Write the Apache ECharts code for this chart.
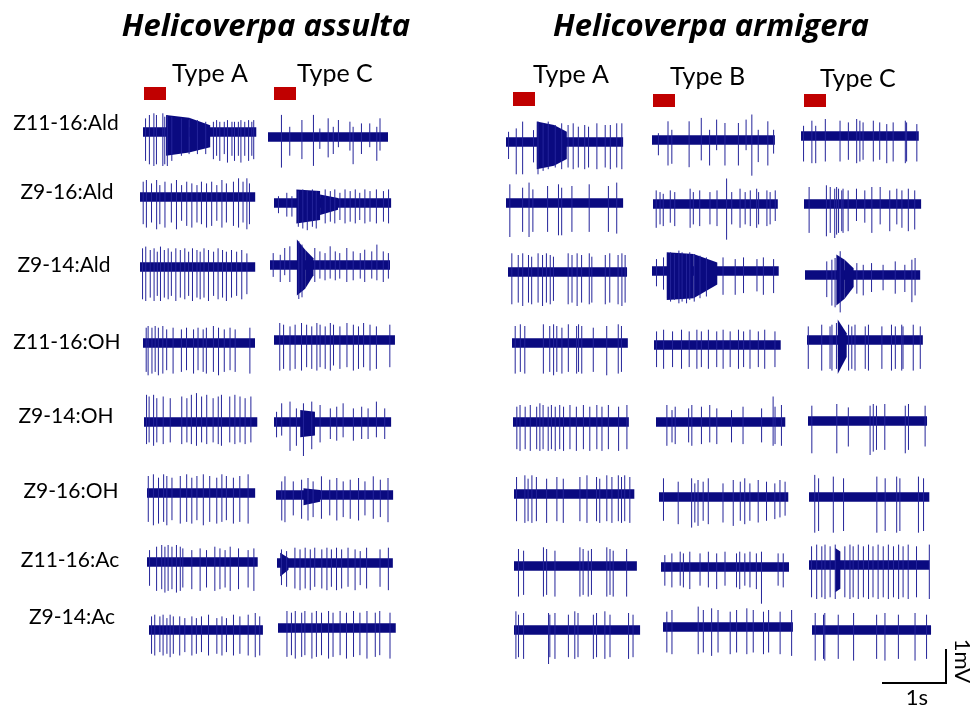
<!DOCTYPE html>
<html>
<head>
<meta charset="utf-8">
<script src="https://cdn.jsdelivr.net/npm/echarts@6/dist/echarts.min.js"></script>
<style>
  html, body { margin: 0; padding: 0; background: #fff; }
  #chart { width: 976px; height: 708px; }
</style>
</head>
<body>
<div id="chart"></div>
<script>
// ---- labels ----
const species = ["Helicoverpa assulta", "Helicoverpa armigera"];
const sensillumTypes = ["Type A", "Type C", "Type A", "Type B", "Type C"];
const compounds = ["Z11-16:Ald", "Z9-16:Ald", "Z9-14:Ald", "Z11-16:OH", "Z9-14:OH", "Z9-16:OH", "Z11-16:Ac", "Z9-14:Ac"];

// ---- recording length of each trace (s), one per compound ----
const assultaA_dur = [1.77, 1.8, 1.8, 1.75, 1.77, 1.69, 1.73, 1.78];
const assultaC_dur = [1.875, 1.83, 1.875, 1.89, 1.83, 1.83, 1.81, 1.84];
const armigeraA_dur = [1.83, 1.83, 1.86, 1.81, 1.81, 1.88, 1.92, 1.97];
const armigeraB_dur = [1.92, 1.95, 1.98, 1.98, 2.02, 2.02, 2.0, 2.03];
const armigeraC_dur = [1.84, 1.83, 1.80, 1.81, 1.86, 1.88, 1.88, 1.86];

// ---- spikes: [time s, up mV, down mV] ----
const assultaA_spikes = [
  [[0.04,0.4,0.85],[0.10,0.5,0.95],[0.17,0.55,1.0],[0.21,0.5,0.95],[0.31,0.55,1.0],[0.34,0.45,0.95],[0.38,0.5,1.0],[0.45,0.45,0.85],[0.6,0.4,0.7],[0.72,0.35,0.65],[0.85,0.35,0.65],[0.98,0.3,0.65],[1.10,0.3,0.8],[1.15,0.35,0.7],[1.20,0.3,0.85],[1.27,0.3,0.65],[1.32,0.35,0.9],[1.39,0.3,0.7],[1.43,0.3,0.85],[1.49,0.3,0.7],[1.53,0.35,0.9],[1.59,0.3,0.7],[1.65,0.35,0.85],[1.70,0.3,0.7],[1.73,0.35,0.8]],
  [[0.05,0.45,0.8],[0.10,0.5,0.9],[0.18,0.4,0.75],[0.26,0.5,0.95],[0.31,0.35,0.8],[0.39,0.45,0.9],[0.49,0.4,0.75],[0.57,0.5,0.95],[0.65,0.35,0.7],[0.73,0.45,0.85],[0.81,0.4,0.9],[0.89,0.35,0.75],[0.96,0.45,0.8],[1.04,0.4,0.9],[1.12,0.45,0.85],[1.20,0.35,0.7],[1.28,0.5,0.9],[1.35,0.4,0.75],[1.46,0.45,0.85],[1.54,0.55,0.9],[1.61,0.45,0.75],[1.67,0.55,0.95],[1.71,0.4,0.8]],
  [[0.04,0.55,0.95],[0.09,0.6,1.0],[0.16,0.5,0.9],[0.22,0.55,1.0],[0.27,0.45,0.85],[0.32,0.6,1.0],[0.38,0.5,0.9],[0.44,0.55,0.95],[0.49,0.45,0.85],[0.56,0.55,1.0],[0.63,0.5,0.9],[0.70,0.55,0.95],[0.76,0.45,0.85],[0.82,0.55,1.0],[0.89,0.5,0.9],[0.94,0.45,0.95],[1.00,0.55,0.9],[1.07,0.5,1.0],[1.15,0.45,0.85],[1.22,0.55,0.95],[1.29,0.5,0.9],[1.35,0.45,1.0],[1.43,0.5,0.9],[1.51,0.45,0.85],[1.59,0.5,0.95],[1.67,0.4,0.8]],
  [[0.05,0.45,0.85],[0.08,0.5,0.95],[0.14,0.45,0.9],[0.19,0.5,0.85],[0.24,0.45,0.95],[0.31,0.5,0.9],[0.37,0.4,0.8],[0.47,0.45,0.9],[0.60,0.4,0.85],[0.68,0.45,0.8],[0.79,0.4,0.9],[0.86,0.45,0.8],[0.94,0.4,0.85],[0.99,0.45,0.9],[1.10,0.5,0.85],[1.18,0.45,0.95],[1.27,0.4,0.85],[1.36,0.45,0.8],[1.44,0.4,0.85],[1.67,0.45,0.9]],
  [[0.04,0.8,0.65],[0.08,0.75,0.6],[0.15,0.8,0.7],[0.20,0.7,0.6],[0.30,0.75,0.65],[0.41,0.7,0.6],[0.59,0.75,0.65],[0.67,0.7,0.6],[0.74,0.8,0.65],[0.82,0.85,0.7],[0.90,0.75,0.6],[0.98,0.8,0.65],[1.08,0.7,0.6],[1.16,0.75,0.65],[1.21,0.8,0.7],[1.34,0.75,0.6],[1.42,0.8,0.65],[1.50,0.75,0.6],[1.58,0.7,0.65],[1.67,0.75,0.6]],
  [[0.02,0.5,0.85],[0.10,0.55,0.95],[0.18,0.45,0.9],[0.26,0.55,0.85],[0.31,0.5,0.95],[0.39,0.45,0.8],[0.52,0.5,0.9],[0.62,0.55,0.85],[0.70,0.45,0.9],[0.78,0.5,0.8],[0.88,0.55,0.95],[0.98,0.5,0.85],[1.09,0.45,0.9],[1.17,0.55,0.85],[1.24,0.5,0.8],[1.35,0.45,0.9],[1.45,0.5,0.85],[1.58,0.55,0.9]],
  [[0.04,0.35,0.7],[0.15,0.45,0.85],[0.23,0.5,0.8],[0.28,0.45,0.9],[0.33,0.5,0.85],[0.39,0.45,0.8],[0.46,0.5,0.9],[0.52,0.45,0.85],[0.56,0.4,0.75],[0.70,0.35,0.8],[0.83,0.4,0.85],[0.93,0.35,0.75],[1.06,0.45,0.85],[1.14,0.4,0.8],[1.22,0.35,0.75],[1.30,0.45,0.85],[1.43,0.4,0.8],[1.58,0.35,0.75],[1.67,0.4,0.85]],
  [[0.04,0.4,0.7],[0.09,0.45,0.75],[0.17,0.4,0.65],[0.22,0.45,0.75],[0.28,0.35,0.7],[0.33,0.45,0.8],[0.38,0.4,0.7],[0.48,0.4,0.75],[0.56,0.35,0.65],[0.67,0.4,0.75],[0.74,0.35,0.7],[0.82,0.4,0.65],[0.93,0.45,0.75],[1.06,0.35,0.7],[1.14,0.4,0.75],[1.21,0.35,0.65],[1.32,0.45,0.75],[1.42,0.4,0.7],[1.55,0.45,0.75],[1.66,0.5,0.8],[1.73,0.4,0.75]]
];
const assultaC_spikes = [
  [[0.21,0.65,0.9],[0.34,0.3,0.55],[0.53,0.5,0.65],[0.71,0.65,0.85],[0.81,0.25,0.35],[0.94,0.55,0.6],[1.02,0.3,0.5],[1.10,0.5,0.3],[1.28,0.45,0.4],[1.33,0.3,0.8],[1.46,0.4,0.5],[1.59,0.4,0.3],[1.70,0.3,0.7],[1.75,0.55,0.4]],
  [[0.07,0.2,0.3],[0.20,0.3,0.4],[0.28,0.2,0.4],[0.38,0.35,0.7],[0.45,0.4,0.75],[0.52,0.35,0.8],[0.60,0.4,0.7],[0.66,0.35,0.75],[0.80,0.4,0.6],[0.88,0.35,0.55],[0.95,0.4,0.6],[1.03,0.3,0.5],[1.11,0.4,0.6],[1.19,0.35,0.55],[1.27,0.4,0.6],[1.34,0.3,0.5],[1.42,0.4,0.6],[1.50,0.35,0.55],[1.60,0.4,0.6],[1.71,0.35,0.55],[1.79,0.4,0.6]],
  [[0.05,0.35,0.35],[0.16,0.3,0.5],[0.23,0.5,0.3],[0.31,0.55,0.5],[0.45,0.7,1.0],[0.50,0.6,0.95],[0.70,0.5,0.5],[0.78,0.4,0.4],[0.86,0.35,0.45],[0.94,0.55,0.4],[1.02,0.4,0.45],[1.09,0.35,0.4],[1.20,0.5,0.5],[1.30,0.4,0.45],[1.41,0.35,0.4],[1.48,0.45,0.5],[1.59,0.4,0.4],[1.67,0.6,0.45],[1.77,0.4,0.5],[1.85,0.35,0.4]],
  [[0.09,0.5,0.9],[0.15,0.45,0.85],[0.25,0.4,0.9],[0.33,0.45,0.85],[0.43,0.5,0.9],[0.51,0.45,0.8],[0.59,0.4,0.85],[0.67,0.5,0.9],[0.72,0.45,0.8],[0.80,0.4,0.85],[0.88,0.5,0.9],[0.93,0.45,0.75],[1.03,0.4,0.85],[1.14,0.5,0.8],[1.24,0.45,0.9],[1.32,0.4,0.85],[1.40,0.5,0.8],[1.50,0.45,0.9],[1.60,0.4,0.85],[1.81,0.45,0.8]],
  [[0.04,0.3,0.45],[0.12,0.55,0.4],[0.25,0.6,0.85],[0.35,0.4,0.7],[0.46,0.55,1.0],[0.59,0.6,0.8],[0.72,0.5,0.6],[0.88,0.4,0.5],[0.98,0.45,0.55],[1.08,0.55,0.45],[1.24,0.4,0.55],[1.37,0.45,0.5],[1.47,0.4,0.5],[1.60,0.6,0.45],[1.73,0.4,0.5]],
  [[0.09,0.4,0.75],[0.14,0.55,0.8],[0.27,0.4,0.6],[0.40,0.45,0.7],[0.50,0.5,0.75],[0.58,0.4,0.65],[0.71,0.55,0.7],[0.84,0.45,0.6],[0.95,0.5,0.75],[1.05,0.4,0.65],[1.16,0.45,0.7],[1.29,0.5,0.75],[1.39,0.4,0.6],[1.52,0.55,0.7],[1.63,0.45,0.65],[1.75,0.5,0.8]],
  [[0.07,0.4,0.65],[0.15,0.35,0.7],[0.28,0.45,0.75],[0.36,0.4,0.8],[0.44,0.45,0.75],[0.52,0.4,0.8],[0.59,0.45,0.7],[0.70,0.4,0.75],[0.78,0.45,0.8],[0.85,0.4,0.7],[0.93,0.45,0.8],[1.01,0.4,0.75],[1.11,0.45,0.7],[1.22,0.4,0.8],[1.30,0.35,0.65],[1.40,0.45,0.75],[1.61,0.4,0.7],[1.74,0.45,0.8]],
  [[0.14,0.5,0.85],[0.21,0.45,0.8],[0.27,0.5,0.9],[0.37,0.45,0.85],[0.42,0.5,0.8],[0.53,0.45,0.9],[0.60,0.5,0.85],[0.68,0.45,0.8],[0.79,0.5,0.9],[0.86,0.45,0.85],[0.97,0.5,0.8],[1.07,0.45,0.9],[1.18,0.5,0.85],[1.28,0.45,0.8],[1.39,0.5,0.9],[1.52,0.45,0.85],[1.59,0.5,0.8],[1.75,0.45,0.9]]
];
const armigeraA_spikes = [
  [[0.04,0.3,0.5],[0.16,0.4,0.95],[0.26,0.6,0.95],[0.43,0.35,0.6],[0.50,0.6,0.95],[0.58,0.55,0.85],[0.66,0.6,0.8],[0.77,0.5,0.75],[0.87,0.55,0.8],[0.97,0.5,0.75],[1.05,0.55,0.8],[1.13,0.45,0.75],[1.23,0.5,0.8],[1.29,0.45,0.75],[1.42,0.55,0.8],[1.55,0.5,0.75],[1.63,0.5,0.8],[1.73,0.55,0.75],[1.81,0.55,0.8]],
  [[0.06,0.55,1.0],[0.26,0.45,0.85],[0.36,0.6,1.0],[0.42,0.4,0.85],[0.65,0.5,0.85],[0.82,0.55,0.95],[0.87,0.45,0.95],[1.03,0.5,0.85],[1.30,0.55,0.85],[1.60,0.5,0.85],[1.73,0.6,0.9]],
  [[0.06,0.55,0.95],[0.16,0.5,0.9],[0.23,0.55,1.0],[0.32,0.5,0.9],[0.37,0.45,0.95],[0.47,0.55,0.9],[0.54,0.5,1.0],[0.60,0.55,0.9],[0.66,0.5,0.95],[0.71,0.45,0.85],[0.94,0.55,0.95],[1.00,0.5,0.9],[1.08,0.55,1.0],[1.15,0.5,0.9],[1.27,0.55,0.95],[1.31,0.45,0.9],[1.52,0.5,0.95],[1.59,0.55,0.9],[1.72,0.5,0.95],[1.78,0.55,1.0],[1.83,0.5,0.9]],
  [[0.05,0.5,0.9],[0.13,0.55,0.85],[0.20,0.5,0.9],[0.49,0.55,0.9],[0.59,0.5,0.85],[0.65,0.55,0.95],[0.70,0.5,0.85],[0.78,0.45,0.9],[0.88,0.55,0.85],[1.01,0.5,0.9],[1.04,0.55,0.85],[1.09,0.5,0.9],[1.27,0.45,0.85],[1.48,0.5,0.95],[1.66,0.55,0.9],[1.71,0.5,0.85]],
  [[0.06,0.45,0.8],[0.11,0.5,0.85],[0.19,0.45,0.8],[0.27,0.5,0.85],[0.37,0.45,0.8],[0.42,0.55,0.85],[0.47,0.5,0.8],[0.55,0.45,0.85],[0.60,0.5,0.8],[0.66,0.45,0.85],[0.73,0.5,0.8],[0.79,0.45,0.85],[0.89,0.5,0.8],[0.99,0.45,0.85],[1.10,0.5,0.8],[1.20,0.45,0.85],[1.31,0.5,0.8],[1.39,0.45,0.85],[1.49,0.5,0.8],[1.65,0.45,0.85],[1.78,0.5,0.8]],
  [[0.04,0.5,0.8],[0.17,0.55,0.85],[0.22,0.45,0.8],[0.28,0.55,0.85],[0.35,0.5,0.8],[0.51,0.45,0.85],[0.67,0.5,0.8],[0.77,0.45,0.85],[1.03,0.5,0.8],[1.14,0.55,0.85],[1.29,0.5,0.8],[1.34,0.45,0.85],[1.45,0.55,0.8],[1.53,0.5,0.85],[1.63,0.55,0.8],[1.68,0.5,0.85],[1.73,0.55,0.8],[1.81,0.5,0.85]],
  [[0.07,0.5,0.9],[0.15,0.45,0.85],[0.46,0.55,0.9],[0.51,0.5,0.85],[0.64,0.45,0.9],[1.03,0.55,0.9],[1.08,0.5,0.85],[1.16,0.45,0.9],[1.21,0.5,0.85],[1.45,0.55,0.9],[1.50,0.5,0.85],[1.55,0.45,0.9],[1.76,0.5,0.9]],
  [[0.03,0.55,0.85],[0.07,0.45,0.8],[0.15,0.5,0.85],[0.54,0.5,1.0],[0.56,0.45,0.8],[0.64,0.5,0.85],[0.85,0.45,0.8],[0.95,0.55,0.85],[1.00,0.5,0.8],[1.24,0.45,0.85],[1.29,0.5,0.8],[1.42,0.55,0.85],[1.50,0.45,0.8],[1.79,0.5,0.85],[1.86,0.45,0.8]]
];
const armigeraB_spikes = [
  [[0.10,0.2,0.45],[0.25,0.55,0.75],[0.31,0.3,0.7],[0.58,0.55,0.8],[0.77,0.65,0.6],[0.90,0.3,0.75],[1.01,0.6,0.3],[1.14,0.5,0.75],[1.35,0.5,0.75],[1.47,0.6,0.3],[1.56,0.75,1.05],[1.66,0.3,0.65],[1.81,0.55,0.75],[1.90,0.3,0.4]],
  [[0.05,0.4,0.7],[0.11,0.35,0.6],[0.16,0.3,0.65],[0.27,0.4,0.55],[0.34,0.35,0.65],[0.58,0.45,0.7],[0.63,0.35,0.6],[0.73,0.4,0.65],[0.89,0.35,0.6],[1.00,0.4,0.65],[1.15,0.75,1.05],[1.23,0.35,0.6],[1.36,0.45,0.7],[1.44,0.35,0.6],[1.52,0.4,0.65],[1.62,0.45,0.7],[1.65,0.35,0.6],[1.78,0.4,0.65],[1.83,0.35,0.6],[1.91,0.4,0.5]],
  [[0.07,0.35,0.45],[0.18,0.4,0.55],[0.29,0.55,0.9],[0.35,0.5,0.85],[0.42,0.6,0.95],[0.47,0.55,0.9],[0.54,0.5,0.95],[0.59,0.55,0.85],[0.66,0.5,0.9],[0.75,0.45,0.8],[0.85,0.4,0.75],[1.11,0.4,0.7],[1.30,0.35,0.7],[1.43,0.4,0.65],[1.64,0.35,0.6],[1.74,0.4,0.7],[1.90,0.35,0.65]],
  [[0.04,0.4,0.65],[0.15,0.45,0.7],[0.29,0.4,0.65],[0.43,0.45,0.7],[0.55,0.4,0.65],[0.67,0.45,0.7],[0.74,0.4,0.65],[0.85,0.45,0.7],[0.98,0.4,0.65],[1.08,0.45,0.7],[1.19,0.4,0.65],[1.32,0.45,0.7],[1.40,0.4,0.65],[1.50,0.45,0.7],[1.63,0.4,0.65],[1.73,0.45,0.7],[1.89,0.4,0.65]],
  [[0.17,0.5,0.7],[0.25,0.35,0.6],[0.30,0.45,0.65],[0.51,0.4,0.6],[0.56,0.5,0.7],[0.71,0.45,0.65],[0.84,0.5,0.6],[0.95,0.4,0.65],[1.18,0.35,0.6],[1.36,0.45,0.65],[1.65,0.4,0.6],[1.83,0.75,0.7],[1.86,0.45,0.65],[1.96,0.5,0.7]],
  [[0.07,0.55,0.7],[0.30,0.45,0.8],[0.51,0.55,0.9],[0.56,0.4,0.75],[0.61,0.5,0.85],[0.69,0.45,0.7],[0.77,0.55,0.8],[1.00,0.4,0.75],[1.16,0.5,0.85],[1.27,0.45,0.7],[1.34,0.55,0.8],[1.42,0.4,0.7],[1.55,0.5,0.75],[1.68,0.45,0.7],[1.81,0.4,0.65],[1.89,0.5,0.6],[1.97,0.45,0.55]],
  [[0.06,0.35,0.55],[0.17,0.4,0.6],[0.30,0.45,0.55],[0.35,0.4,0.6],[0.45,0.45,0.65],[0.61,0.4,0.55],[0.74,0.45,0.6],[0.87,0.4,0.65],[1.00,0.45,0.55],[1.18,0.4,0.6],[1.23,0.45,0.65],[1.31,0.4,0.55],[1.39,0.45,0.6],[1.49,0.4,0.65],[1.57,0.45,1.08],[1.83,0.4,0.55],[1.91,0.4,0.6]],
  [[0.06,0.45,0.75],[0.14,0.5,0.8],[0.55,0.6,0.8],[0.63,0.5,0.75],[0.76,0.55,0.85],[0.86,0.5,0.75],[1.05,0.45,0.8],[1.15,0.5,0.75],[1.31,0.55,0.8],[1.41,0.5,0.75],[1.57,0.45,0.8],[1.65,0.5,0.75],[1.83,0.45,0.8],[2.01,0.5,0.85]]
];
const armigeraC_spikes = [
  [[0.04,0.3,0.75],[0.17,0.45,0.8],[0.23,0.3,0.8],[0.38,0.5,0.75],[0.61,0.45,0.75],[0.74,0.4,0.7],[0.87,0.5,0.8],[0.92,0.45,0.75],[0.97,0.4,0.7],[1.13,0.45,0.75],[1.23,0.4,0.7],[1.34,0.35,0.8],[1.44,0.4,0.75],[1.63,0.45,0.8],[1.65,0.4,0.75],[1.81,0.35,0.75]],
  [[0.08,0.5,0.85],[0.35,0.55,0.95],[0.41,0.5,0.85],[0.48,0.45,1.0],[0.51,0.5,0.9],[0.54,0.45,0.85],[0.59,0.4,0.8],[0.61,0.45,0.85],[0.69,0.4,0.8],[0.82,0.45,0.5],[0.95,0.4,0.55],[1.06,0.5,0.85],[1.19,0.5,0.6],[1.34,0.4,0.8],[1.45,0.45,0.6],[1.53,0.4,0.7],[1.63,0.45,0.8],[1.73,0.4,0.75]],
  [[0.34,0.4,0.65],[0.42,0.45,0.9],[0.47,0.5,0.95],[0.55,0.7,1.1],[0.81,0.35,0.55],[0.91,0.3,0.6],[1.04,0.35,0.5],[1.22,0.3,0.45],[1.41,0.4,0.55],[1.56,0.3,0.5],[1.67,0.45,0.8],[1.72,0.5,0.6]],
  [[0.02,0.4,0.85],[0.23,0.45,0.9],[0.36,0.4,0.85],[0.39,0.45,0.9],[0.46,0.5,0.85],[0.65,0.45,0.9],[0.70,0.4,0.85],[0.75,0.45,0.9],[0.91,0.4,0.85],[0.96,0.45,0.9],[1.17,0.4,0.85],[1.32,0.45,0.9],[1.38,0.4,0.85],[1.48,0.45,0.9],[1.50,0.4,0.85],[1.66,0.45,0.9],[1.77,0.4,0.85]],
  [[0.06,0.45,0.95],[0.45,0.5,0.95],[0.63,0.4,0.75],[0.97,0.45,1.0],[1.02,0.5,0.9],[1.07,0.45,0.85],[1.20,0.5,0.85],[1.52,0.45,0.95],[1.57,0.5,0.85],[1.83,0.45,0.75]],
  [[0.09,0.65,1.05],[0.15,0.55,1.0],[0.38,0.6,1.05],[0.54,0.55,1.0],[1.06,0.6,1.05],[1.19,0.55,1.0],[1.37,0.6,1.05],[1.42,0.55,1.0],[1.71,0.6,1.05],[1.79,0.55,1.0]],
  [[0.04,0.55,0.95],[0.12,0.6,1.0],[0.20,0.55,0.95],[0.25,0.6,1.0],[0.33,0.55,0.95],[0.41,0.6,1.0],[0.56,0.55,0.95],[0.64,0.6,1.0],[0.69,0.55,0.95],[0.77,0.6,1.0],[0.85,0.55,0.95],[0.93,0.6,1.0],[1.00,0.55,0.95],[1.08,0.6,1.0],[1.16,0.55,0.95],[1.24,0.6,1.0],[1.32,0.55,0.95],[1.40,0.6,1.0],[1.47,0.55,0.95],[1.55,0.6,1.0],[1.68,0.55,0.95],[1.88,0.6,1.0]],
  [[0.05,0.5,0.9],[0.18,0.45,0.85],[0.20,0.5,0.9],[0.41,0.45,0.85],[0.65,0.5,0.9],[1.01,0.45,0.85],[1.14,0.5,0.9],[1.35,0.45,0.85],[1.61,0.5,0.9],[1.79,0.45,0.85]]
];

// ---- bursts: [start s, end s, up at start, down at start, up at end, down at end] (mV) ----
const assultaA_bursts = [[[0.36,0.72,0.5,0.7,0.42,0.6],[0.72,1.05,0.42,0.6,0.2,0.45]], [], [], [], [], [], [], []];
const assultaC_bursts = [[], [[0.35,0.72,0.4,0.6,0.35,0.5],[0.72,1.0,0.25,0.35,0.15,0.2]], [[0.42,0.55,0.75,0.9,0.45,0.7],[0.55,0.68,0.45,0.7,0.2,0.3]], [], [[0.41,0.64,0.35,0.45,0.3,0.4]], [[0.43,0.69,0.2,0.3,0.15,0.2]], [[0.05,0.18,0.3,0.4,0.15,0.2]], []];
const armigeraA_bursts = [[[0.48,0.75,0.6,0.8,0.5,0.7],[0.75,0.95,0.5,0.7,0.3,0.5]], [], [], [], [], [], [], []];
const armigeraB_bursts = [[], [], [[0.23,0.65,0.55,0.85,0.5,0.8],[0.65,1.02,0.5,0.8,0.25,0.4]], [], [], [], [], []];
const armigeraC_bursts = [[], [], [[0.49,0.62,0.6,0.9,0.45,0.7],[0.62,0.76,0.45,0.7,0.2,0.35]], [[0.48,0.62,0.6,1.0,0.2,0.5]], [], [], [[0.41,0.49,0.5,0.8,0.4,0.7]], []];

const noiseLevel = 0.14; // half width of baseline noise, mV
const scaleBar = [1, 1]; // 1 s, 1 mV

// ---- layout (px) ----
const S_PX = 64, MV_PX = 34, Y_MIN = -1.25, Y_MAX = 1.25;
const panels = [
  { dur: assultaA_dur, spikes: assultaA_spikes, bursts: assultaA_bursts,
    x0: [143,140,140,143,144,147,147,149], base: [132,197,267,343,422,493,562,630] },
  { dur: assultaC_dur, spikes: assultaC_spikes, bursts: assultaC_bursts,
    x0: [268,274,270,274,274,276,277,278], base: [137,203,265,340,422,495,563,628] },
  { dur: armigeraA_dur, spikes: armigeraA_spikes, bursts: armigeraA_bursts,
    x0: [506,506,508,512,513,514,514,514], base: [142,203,272,343,422,494,566,630] },
  { dur: armigeraB_dur, spikes: armigeraB_spikes, bursts: armigeraB_bursts,
    x0: [652,653,652,654,656,659,661,663], base: [140,204,271,345,422,497,567,627] },
  { dur: armigeraC_dur, spikes: armigeraC_spikes, bursts: armigeraC_bursts,
    x0: [801,804,805,807,808,809,809,812], base: [136,204,275,340,421,497,565,630] }
];
const typeLabelPos = [[172,74],[297,74],[533,75],[670,77],[820,79]];
const stimRects = [[144,87,22,13],[274,87,22,13],[513,92,22,14],[653,94,22,13],[804,94,22,13]];
const rowLabelPos = [[66,123],[67,192],[64,265],[67,342],[66,416],[71,491],[70,560],[72,617]];

const TRACE = "#0a0a80";
const SPIKE = "#24249a";
const FONT = "Lato, 'Open Sans', sans-serif";
const TITLE_FONT = "'Open Sans', Lato, sans-serif";

function renderEnvelope(params, api) {
  const t0 = api.value(0), t1 = api.value(1);
  const pts = [
    api.coord([t0, api.value(2)]), api.coord([t1, api.value(4)]),
    api.coord([t1, -api.value(5)]), api.coord([t0, -api.value(3)])
  ];
  return { type: "polygon", shape: { points: pts }, style: { fill: TRACE } };
}
function renderSpike(params, api) {
  const t = api.value(0);
  const a = api.coord([t, api.value(1)]);
  const b = api.coord([t, -api.value(2)]);
  return { type: "line", shape: { x1: a[0], y1: a[1], x2: b[0], y2: b[1] },
           style: { stroke: SPIKE, lineWidth: 1 } };
}
function renderScale(params, api) {
  const o = api.coord([0, 0]);
  const px = api.coord([api.value(0), 0]);
  const py = api.coord([api.value(0), api.value(1)]);
  return { type: "polyline", shape: { points: [o, px, py] },
           style: { stroke: "#000", lineWidth: 2, fill: null } };
}

const grids = [], xAxes = [], yAxes = [], series = [];
panels.forEach(p => {
  p.spikes.forEach((sp, r) => {
    const gi = grids.length;
    const dur = p.dur[r];
    grids.push({ left: p.x0[r], top: p.base[r] - Y_MAX * MV_PX, width: dur * S_PX, height: (Y_MAX - Y_MIN) * MV_PX });
    xAxes.push({ gridIndex: gi, type: "value", min: 0, max: dur, show: false });
    yAxes.push({ gridIndex: gi, type: "value", min: Y_MIN, max: Y_MAX, show: false });
    const env = [[0, dur, noiseLevel, noiseLevel, noiseLevel, noiseLevel]].concat(p.bursts[r]);
    series.push({ type: "custom", xAxisIndex: gi, yAxisIndex: gi, silent: true, clip: false,
      data: env, renderItem: renderEnvelope, encode: { x: [0, 1], y: [2, 3] } });
    series.push({ type: "custom", xAxisIndex: gi, yAxisIndex: gi, silent: true, clip: false,
      data: sp, renderItem: renderSpike, encode: { x: 0, y: [1, 2] } });
  });
});
// scale bar grid: 1 s x 1 mV
{
  const gi = grids.length;
  grids.push({ left: 882, top: 683 - 1.5 * MV_PX, width: 1.2 * S_PX, height: 1.5 * MV_PX });
  xAxes.push({ gridIndex: gi, type: "value", min: 0, max: 1.2, show: false });
  yAxes.push({ gridIndex: gi, type: "value", min: 0, max: 1.5, show: false });
  series.push({ type: "custom", xAxisIndex: gi, yAxisIndex: gi, silent: true, clip: false,
    data: [scaleBar], renderItem: renderScale, encode: { x: 0, y: 1 } });
}

const graphic = [
  { type: "text", x: 266, y: 27, style: { text: species[0], font: "italic bold 31px " + TITLE_FONT, fill: "#000", textAlign: "center", textVerticalAlign: "middle" } },
  { type: "text", x: 711, y: 27, style: { text: species[1], font: "italic bold 31px " + TITLE_FONT, fill: "#000", textAlign: "center", textVerticalAlign: "middle" } },
  { type: "text", x: 917, y: 698, style: { text: "1s", font: "22px " + FONT, fill: "#000", textAlign: "center", textVerticalAlign: "middle" } },
  { type: "text", x: 962, y: 661, rotation: -Math.PI / 2, style: { text: "1mV", font: "22px " + FONT, fill: "#000", textAlign: "center", textVerticalAlign: "middle" } }
];
sensillumTypes.forEach((t, i) => {
  graphic.push({ type: "text", x: typeLabelPos[i][0], y: typeLabelPos[i][1],
    style: { text: t, font: "25px " + FONT, fill: "#000", textAlign: "left", textVerticalAlign: "middle" } });
  const r = stimRects[i];
  graphic.push({ type: "rect", shape: { x: r[0], y: r[1], width: r[2], height: r[3] }, style: { fill: "#c00000" } });
});
compounds.forEach((c, i) => {
  graphic.push({ type: "text", x: rowLabelPos[i][0], y: rowLabelPos[i][1],
    style: { text: c, font: "21px " + FONT, fill: "#000", textAlign: "center", textVerticalAlign: "middle" } });
});

const chart = echarts.init(document.getElementById("chart"), null, { renderer: "canvas" });
chart.setOption({
  animation: false,
  backgroundColor: "#fff",
  grid: grids,
  xAxis: xAxes,
  yAxis: yAxes,
  series: series,
  graphic: graphic
});
</script>
</body>
</html>
